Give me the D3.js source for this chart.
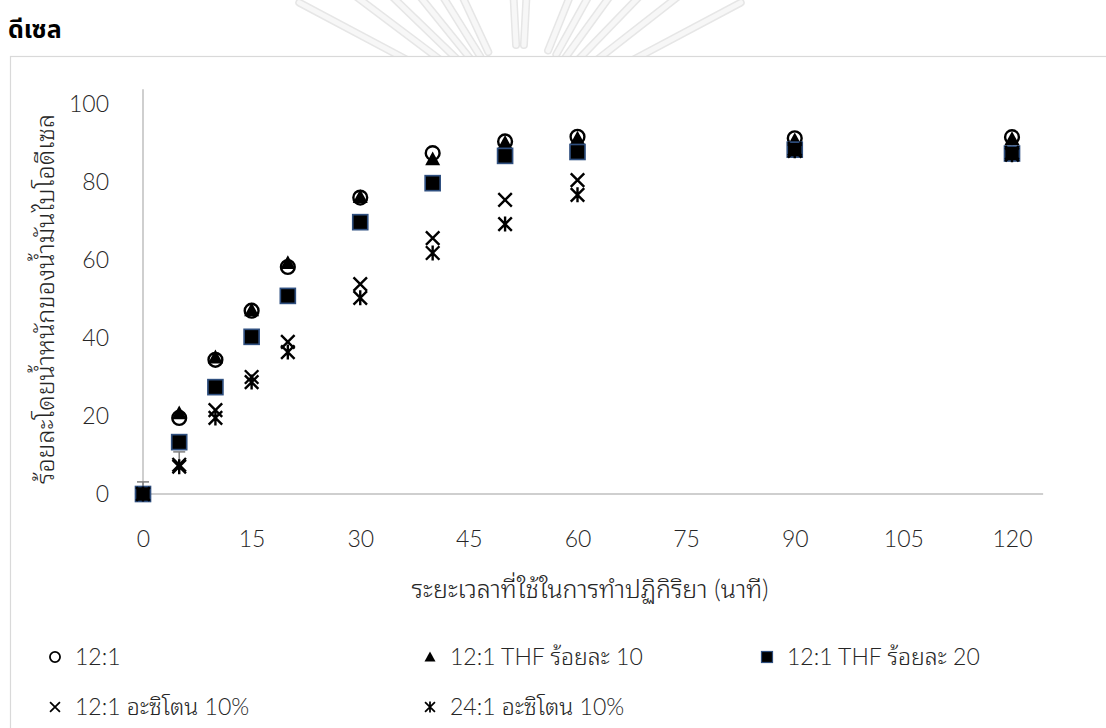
<!DOCTYPE html>
<html lang="th">
<head>
<meta charset="utf-8">
<script src="https://cdn.jsdelivr.net/npm/d3@7"></script>
<style>
  html, body { margin: 0; padding: 0; background: #fff; }
  svg { display: block; }
</style>
</head>
<body>
<svg id="chart" width="1106" height="728"></svg>
<script>
// Reaction time (minutes)
const times = [0, 5, 10, 15, 20, 30, 40, 50, 60, 90, 120];

// Biodiesel yield (% by weight) for each reaction condition
const yield121        = [0, 19.5, 34.4, 47.0, 58.2, 76.0, 87.4, 90.4, 91.6, 91.2, 91.5];
const yield121Thf10   = [0, 20.8, 35.1, 47.2, 59.3, 76.2, 85.9, 90.1, 91.2, 90.8, 91.1];
const yield121Thf20   = [0, 13.3, 27.4, 40.3, 50.8, 69.7, 79.7, 86.7, 87.7, 88.3, 87.3];
const yield121Acetone = [0, 7.5, 21.5, 30.0, 39.0, 53.8, 65.6, 75.4, 80.5, 88.5, 87.5];
const yield241Acetone = [0, 7.0, 19.5, 28.7, 36.4, 50.3, 61.8, 69.2, 76.7, 88.0, 87.0];

// Upper error on the 12:1 acetone series (null = none drawn)
const errAcetone = [3.1, 3.3, null, null, null, null, null, null, null, null, null];

// Series names as shown in the legend
const seriesNames = ["12:1", "12:1 THF ร้อยละ 10", "12:1 THF ร้อยละ 20", "12:1 อะซิโตน 10%", "24:1 อะซิโตน 10%"];

// Axis tick labels
const xTicks = [0, 15, 30, 45, 60, 75, 90, 105, 120];
const yTicks = [0, 20, 40, 60, 80, 100];

const titleText = "ดีเซล";
const xTitle = "ระยะเวลาที่ใช้ในการทำปฏิกิริยา (นาที)";
const yTitle = "ร้อยละโดยน้ำหนักของน้ำมันไบโอดีเซล";

const svg = d3.select("#chart");
const numFont = "Lato, 'Open Sans', 'Noto Sans', sans-serif";
const thaiFont = "Lato, 'Noto Sans Thai Looped', 'Noto Sans Thai', Tahoma, 'Noto Sans', sans-serif";
const textColor = "#262626";

// faint emblem rays behind the heading
const rays = svg.append("g").attr("fill", "none").attr("stroke-linecap", "round");
const cx = 520, cy = 120;
[-62, -53, -46, -39, -32, -25, -3, 3, 22, 29, 36, 44, 52, 62].forEach(a => {
  const r = a * Math.PI / 180;
  const line = (w, c) => rays.append("line")
    .attr("x1", cx + Math.sin(r) * 75).attr("y1", cy - Math.cos(r) * 75)
    .attr("x2", cx + Math.sin(r) * 250).attr("y2", cy - Math.cos(r) * 250)
    .attr("stroke", c).attr("stroke-width", w);
  line(8, "#e6e6e6");
  line(5, "#f7f7f7");
});

// heading
svg.append("text")
  .attr("x", 8).attr("y", 38)
  .attr("font-family", "'Noto Sans Thai', Tahoma, sans-serif").attr("font-weight", "bold").attr("font-size", 25)
  .attr("fill", "#000").text(titleText);

// chart frame
svg.append("rect")
  .attr("x", 10.5).attr("y", 56.5).attr("width", 1120).attr("height", 700)
  .attr("fill", "#fff").attr("stroke", "#d9d9d9").attr("stroke-width", 1.2);

const x = d3.scaleLinear().domain([0, 120]).range([143, 1012]);
const y = d3.scaleLinear().domain([0, 100]).range([494, 104]);

// axis lines
const axisColor = "#bfbfbf";
svg.append("line")
  .attr("x1", x(0)).attr("x2", x(0)).attr("y1", y(0)).attr("y2", y(103.8))
  .attr("stroke", axisColor).attr("stroke-width", 1.5);
svg.append("line")
  .attr("x1", x(0)).attr("x2", x(124.3)).attr("y1", y(0)).attr("y2", y(0))
  .attr("stroke", axisColor).attr("stroke-width", 1.5);

// tick labels
const yAxis = d3.axisLeft(y).tickValues(yTicks).tickSize(0).tickPadding(0);
const gy = svg.append("g").attr("transform", "translate(109,0)").call(yAxis);
gy.select(".domain").remove();
gy.selectAll("text").attr("font-family", numFont).attr("font-size", 23).attr("fill", textColor).attr("font-weight", 300);

const xAxis = d3.axisBottom(x).tickValues(xTicks).tickSize(0).tickPadding(0);
const gx = svg.append("g").attr("transform", "translate(0,531)").call(xAxis);
gx.select(".domain").remove();
gx.selectAll("text").attr("font-family", numFont).attr("font-size", 23).attr("fill", textColor).attr("font-weight", 300);

// axis titles
svg.append("text")
  .attr("x", 590).attr("y", 598).attr("text-anchor", "middle")
  .attr("font-family", thaiFont).attr("font-weight", 300).attr("font-size", 25).attr("fill", textColor)
  .text(xTitle);
svg.append("text")
  .attr("transform", `translate(54,${(y(0) + y(100)) / 2}) rotate(-90)`)
  .attr("text-anchor", "middle")
  .attr("font-family", thaiFont).attr("font-weight", 300).attr("font-size", 25).attr("fill", textColor)
  .text(yTitle);

// marker shapes
const shapes = {
  circle: (g, s) => g.append("circle").attr("r", s * 0.46).attr("fill", "#fff").attr("stroke", "#000").attr("stroke-width", s * 0.16),
  triangle: (g, s) => g.append("path").attr("d", `M0,${-s * 0.5}L${s * 0.5},${s * 0.42}L${-s * 0.5},${s * 0.42}Z`).attr("fill", "#000"),
  square: (g, s) => g.append("rect").attr("x", -s / 2).attr("y", -s / 2).attr("width", s).attr("height", s).attr("fill", "#000").attr("stroke", "#2f4f7f").attr("stroke-width", s * 0.11),
  cross: (g, s) => g.append("path").attr("d", `M${-s * 0.45},${-s * 0.45}L${s * 0.45},${s * 0.45}M${s * 0.45},${-s * 0.45}L${-s * 0.45},${s * 0.45}`).attr("stroke", "#000").attr("stroke-width", s * 0.16).attr("fill", "none"),
  star: (g, s) => g.append("path").attr("d", `M${-s * 0.45},${-s * 0.45}L${s * 0.45},${s * 0.45}M${s * 0.45},${-s * 0.45}L${-s * 0.45},${s * 0.45}M0,${-s * 0.5}L0,${s * 0.5}`).attr("stroke", "#000").attr("stroke-width", s * 0.16).attr("fill", "none")
};

const series = [
  { name: seriesNames[0], values: yield121, shape: "circle" },
  { name: seriesNames[1], values: yield121Thf10, shape: "triangle" },
  { name: seriesNames[2], values: yield121Thf20, shape: "square" },
  { name: seriesNames[3], values: yield121Acetone, shape: "cross", err: errAcetone },
  { name: seriesNames[4], values: yield241Acetone, shape: "star" }
];

const plot = svg.append("g");
series.forEach(s => {
  if (s.err) {
    const eg = plot.append("g").attr("stroke", "#7f7f7f").attr("stroke-width", 1.5);
    times.forEach((t, i) => {
      if (s.err[i] == null) return;
      const top = y(s.values[i] + s.err[i]);
      eg.append("line").attr("x1", x(t)).attr("x2", x(t)).attr("y1", y(s.values[i])).attr("y2", top);
      eg.append("line").attr("x1", x(t) - 6).attr("x2", x(t) + 6).attr("y1", top).attr("y2", top);
    });
  }
});
series.forEach(s => {
  times.forEach((t, i) => {
    const g = plot.append("g").attr("transform", `translate(${x(t)},${y(s.values[i])})`);
    shapes[s.shape](g, 15);
  });
});

// legend
const legendPos = [[55, 657], [430, 657], [767, 657], [55, 707], [430, 707]];
series.forEach((s, i) => {
  const [lx, ly] = legendPos[i];
  const g = svg.append("g").attr("transform", `translate(${lx},${ly})`);
  shapes[s.shape](g, 11);
  g.append("text").attr("x", 20).attr("y", 8)
    .attr("font-family", thaiFont).attr("font-weight", 300).attr("font-size", 23).attr("fill", textColor)
    .text(s.name);
});
</script>
</body>
</html>
